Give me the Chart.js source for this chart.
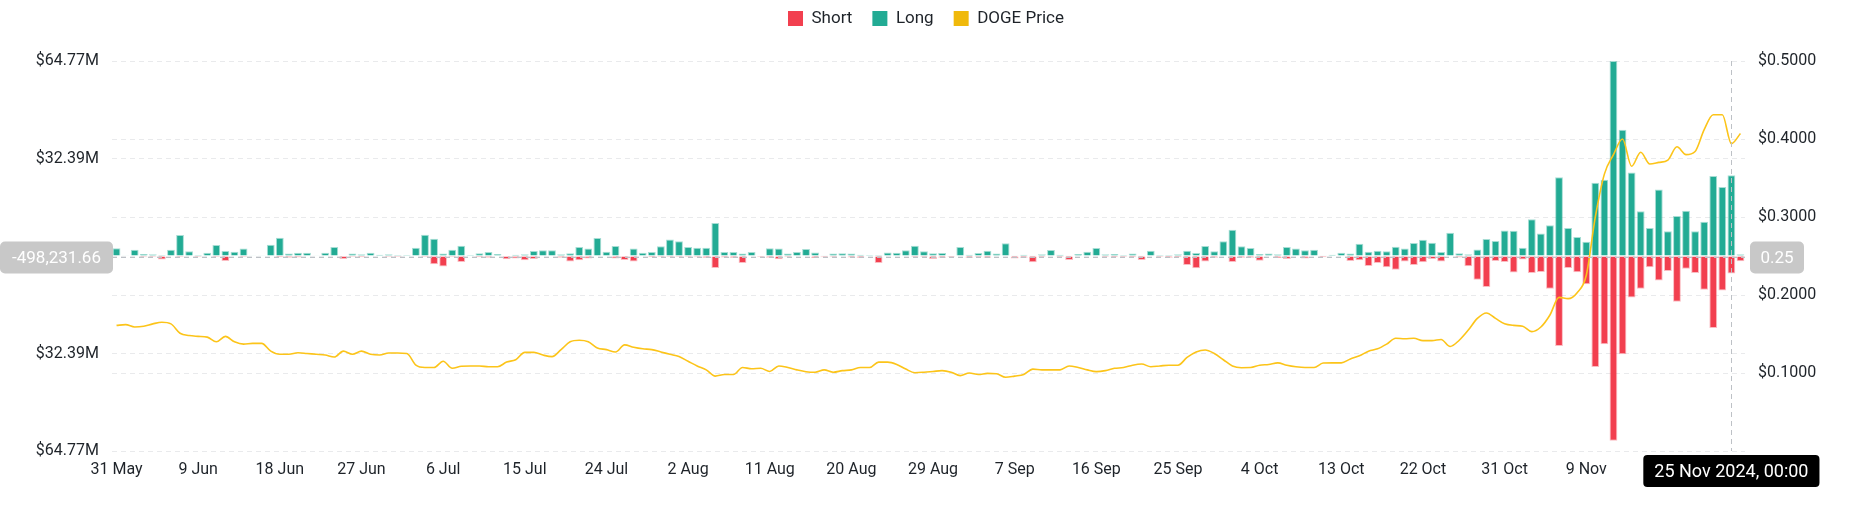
<!DOCTYPE html>
<html>
<head>
<meta charset="utf-8">
<script src="https://cdn.jsdelivr.net/npm/chart.js@4.4.1/dist/chart.umd.min.js"></script>
<style>
  html, body { margin: 0; padding: 0; background: #ffffff; }
  #wrap { width: 1852px; height: 525px; }
</style>
</head>
<body>
<div id="wrap"><canvas id="c" width="1852" height="525"></canvas></div>
<script>
// ---------------- DATA ----------------
const START_DATE = '2024-05-31';
const DAY_COUNT = 180;
const MONTHS = ['Jan','Feb','Mar','Apr','May','Jun','Jul','Aug','Sep','Oct','Nov','Dec'];
const categories = [];
for (let i = 0; i < DAY_COUNT; i++) {
  const d = new Date(START_DATE + 'T00:00:00Z');
  d.setUTCDate(d.getUTCDate() + i);
  categories.push(d.getUTCDate() + ' ' + MONTHS[d.getUTCMonth()]);
}
const xTickLabels = ['31 May','9 Jun','18 Jun','27 Jun','6 Jul','15 Jul','24 Jul','2 Aug','11 Aug','20 Aug',
  '29 Aug','7 Sep','16 Sep','25 Sep','4 Oct','13 Oct','22 Oct','31 Oct','9 Nov','18 Nov'];

// Long liquidations (USD millions)
const longValues = [
  2.55, 0.1, 2.1, 0.65, 0.55, 0.3, 2.1, 7.0, 1.55, 0.3,
  1.1, 3.65, 1.65, 1.45, 2.45, 0.1, 0.1, 3.75, 6.1, 0.8,
  1.1, 1.1, 0.1, 1.1, 3.0, 0.2, 0.8, 0.55, 1.1, 0.45,
  0.55, 0.3, 0.3, 2.75, 7.1, 5.75, 0.8, 2.1, 3.4, 0.3,
  0.9, 1.3, 0.65, 0.2, 0.45, 0.55, 1.65, 1.9, 1.9, 0.55,
  0.9, 3.0, 2.45, 6.0, 1.45, 3.3, 0.2, 2.45, 1.1, 1.3,
  3.2, 5.5, 4.9, 3.0, 2.75, 2.75, 11.0, 1.3, 1.3, 0.8,
  1.3, 0.2, 2.55, 2.45, 0.8, 1.3, 2.3, 1.2, 0.1, 0.8,
  0.9, 0.8, 0.45, 0.35, 0.3, 1.2, 1.1, 1.9, 3.4, 1.55,
  0.95, 1.0, 0.0, 3.0, 0.45, 1.0, 1.75, 0.8, 4.2, 0.1,
  0.45, 0.1, 0.55, 2.0, 0.45, 0.1, 0.65, 1.45, 2.65, 0.55,
  0.65, 0.35, 0.8, 0.1, 1.75, 0.35, 0.35, 0.55, 1.75, 1.0,
  3.3, 1.55, 4.9, 8.75, 3.2, 2.65, 0.65, 0.8, 0.55, 3.0,
  2.45, 1.9, 2.1, 0.1, 0.45, 1.1, 0.8, 4.1, 1.45, 1.75,
  1.55, 3.1, 2.45, 4.3, 5.4, 4.4, 1.3, 7.75, 0.9, 0.55,
  2.2, 5.65, 5.0, 8.5, 8.4, 2.75, 12.2, 7.5, 10.2, 26.2,
  9.3, 6.3, 4.75, 24.35, 25.35, 64.774, 41.95, 27.7, 14.9, 9.3,
  22.1, 8.2, 13.3, 15.05, 8.2, 11.4, 26.6, 22.9, 26.8, 0.55
];

// Short liquidations (USD millions, drawn downward)
const shortValues = [
  -0.2, -0.2, -0.2, -0.4, -0.3, -1.2, -0.2, -0.3, -0.2, -0.3,
  -0.2, -0.3, -1.65, -0.2, -0.3, -0.2, -0.2, -0.2, -0.45, -0.55,
  -0.5, -0.2, -0.2, -0.2, -0.2, -1.0, -0.3, -0.45, -0.2, -0.2,
  -0.3, -0.3, -0.2, -0.2, -0.3, -2.75, -3.5, -0.3, -2.0, -0.2,
  -0.45, -0.55, -0.2, -1.1, -0.8, -1.45, -1.0, -0.2, -0.2, -0.55,
  -1.8, -1.45, -0.8, -0.2, -0.2, -0.8, -1.3, -1.8, -0.2, -0.45,
  -0.3, -0.3, -0.3, -0.3, -0.4, -0.6, -4.0, -0.5, -0.6, -2.3,
  -0.2, -0.35, -0.55, -1.1, -0.35, -0.2, -0.2, -0.65, -0.4, -0.4,
  -0.2, -0.5, -0.6, -0.2, -2.3, -0.2, -0.2, -0.2, -0.3, -0.3,
  -1.0, -0.55, -0.3, -0.2, -0.6, -0.35, -0.55, -0.2, -0.2, -0.8,
  -0.55, -2.1, -0.3, -0.2, -0.35, -1.3, -0.2, -0.2, -0.2, -0.35,
  -0.45, -0.35, -0.45, -1.3, -0.2, -0.35, -0.55, -0.45, -3.0, -4.1,
  -1.8, -0.55, -0.2, -2.0, -0.55, -0.55, -1.55, -0.2, -0.65, -1.0,
  -0.2, -0.8, -0.2, -0.45, -0.2, -0.2, -1.65, -1.45, -3.3, -2.3,
  -3.75, -4.55, -1.8, -3.0, -2.1, -1.0, -1.8, -0.2, -0.5, -3.4,
  -7.9, -10.3, -1.65, -2.0, -5.5, -1.2, -5.65, -5.3, -10.85, -29.9,
  -4.0, -5.4, -9.4, -36.9, -29.3, -61.4, -32.65, -13.8, -10.85, -3.75,
  -8.1, -5.0, -15.2, -4.2, -5.65, -11.2, -23.9, -11.5, -5.85, -1.75
];

// DOGE price (USD)
const priceValues = [
  0.161, 0.162, 0.159, 0.160, 0.163, 0.165, 0.163, 0.151, 0.148, 0.147,
  0.146, 0.140, 0.147, 0.140, 0.137, 0.138, 0.138, 0.128, 0.124, 0.124,
  0.126, 0.125, 0.124, 0.123, 0.1205, 0.128, 0.124, 0.128, 0.124, 0.123,
  0.1256, 0.1256, 0.125, 0.110, 0.107, 0.107, 0.115, 0.106, 0.1086, 0.109,
  0.109, 0.108, 0.108, 0.114, 0.117, 0.1265, 0.1265, 0.123, 0.121, 0.130,
  0.140, 0.142, 0.140, 0.132, 0.130, 0.127, 0.136, 0.133, 0.131, 0.130,
  0.127, 0.124, 0.121, 0.115, 0.109, 0.104, 0.096, 0.098, 0.098, 0.107,
  0.1055, 0.106, 0.102, 0.109, 0.107, 0.104, 0.1017, 0.101, 0.104, 0.101,
  0.103, 0.104, 0.107, 0.107, 0.114, 0.114, 0.111, 0.105, 0.1004, 0.101,
  0.102, 0.103, 0.101, 0.0966, 0.100, 0.098, 0.0995, 0.099, 0.0945, 0.096,
  0.098, 0.105, 0.104, 0.104, 0.104, 0.109, 0.107, 0.104, 0.1017, 0.103,
  0.106, 0.107, 0.110, 0.1115, 0.108, 0.109, 0.110, 0.110, 0.120, 0.127,
  0.1295, 0.125, 0.117, 0.109, 0.1068, 0.107, 0.110, 0.111, 0.113, 0.110,
  0.108, 0.107, 0.107, 0.1128, 0.113, 0.113, 0.118, 0.122, 0.128, 0.131,
  0.137, 0.1445, 0.144, 0.1445, 0.1415, 0.1415, 0.143, 0.134, 0.142, 0.155,
  0.170, 0.177, 0.170, 0.163, 0.161, 0.160, 0.153, 0.159, 0.1744, 0.197,
  0.1953, 0.203, 0.225, 0.300, 0.355, 0.380, 0.400, 0.365, 0.383, 0.368,
  0.370, 0.373, 0.390, 0.380, 0.384, 0.412, 0.431, 0.431, 0.394, 0.407
];

const LEFT_MAX = 64.774;           // $M, symmetric axis
const RIGHT_MAX = 0.5;
const HOVER_CATEGORY = '25 Nov';
const HOVER_LEFT_VALUE = -0.49823166; // $M
const HOVER_LEFT_TEXT = '-498,231.66';
const HOVER_RIGHT_TEXT = '0.25';
const HOVER_TIME_TEXT = '25 Nov 2024, 00:00';

// ---------------- STYLE ----------------
const FONT = 'Roboto, "Noto Sans", "DejaVu Sans", sans-serif';
const TEXT = '#1E2329';
const GRID = '#E9EAEC';
const TEAL = '#22AB94';
const RED = '#F23F4F';
const GOLD = '#F0B90B';
const LINE_GOLD = '#FCC419';
const SPACER_HEIGHT = 24;

// a blank layout box placed between legend and plot area
const topSpacer = {
  id: 'topSpacer',
  beforeInit(chart) {
    const box = {
      position: 'top', weight: 500, fullSize: true, options: {},
      left: 0, top: 0, right: 0, bottom: 0, width: 0, height: 0,
      isHorizontal() { return true; },
      update(maxWidth) { this.width = maxWidth; this.height = SPACER_HEIGHT; },
      getPadding() { return {top: 0, left: 0, right: 0, bottom: 0}; },
      draw() {}
    };
    Chart.layouts.addBox(chart, box);
  }
};

const crosshair = {
  id: 'crosshair',
  afterDatasetsDraw(chart) {
    const {ctx, chartArea: ca, scales} = chart;
    const idx = categories.indexOf(HOVER_CATEGORY);
    const px = Math.round(scales.x.getPixelForValue(idx)) + 0.5;
    const py = Math.round(scales.y.getPixelForValue(HOVER_LEFT_VALUE)) + 0.5;
    ctx.save();
    ctx.strokeStyle = '#BDC1C6';
    ctx.lineWidth = 1;
    ctx.setLineDash([5, 4]);
    ctx.beginPath(); ctx.moveTo(px, ca.top); ctx.lineTo(px, ca.bottom); ctx.stroke();
    ctx.beginPath(); ctx.moveTo(ca.left, py); ctx.lineTo(ca.right, py); ctx.stroke();
    ctx.restore();
  },
  afterDraw(chart) {
    const {ctx, chartArea: ca, scales} = chart;
    const idx = categories.indexOf(HOVER_CATEGORY);
    const px = scales.x.getPixelForValue(idx);
    const py = scales.y.getPixelForValue(HOVER_LEFT_VALUE);
    ctx.save();
    ctx.font = '17px ' + FONT;
    ctx.textAlign = 'center';
    ctx.textBaseline = 'middle';
    // left label
    ctx.fillStyle = '#C8C8C8';
    ctx.beginPath(); ctx.roundRect(0, py - 16, ca.left + 1, 32, 5); ctx.fill();
    ctx.fillStyle = '#FFFFFF';
    ctx.fillText(HOVER_LEFT_TEXT, (ca.left + 1) / 2, py + 1);
    // right label
    ctx.fillStyle = '#C8C8C8';
    ctx.beginPath(); ctx.roundRect(ca.right + 5, py - 16, 54, 32, 5); ctx.fill();
    ctx.fillStyle = '#FFFFFF';
    ctx.fillText(HOVER_RIGHT_TEXT, ca.right + 5 + 27, py + 1);
    // bottom time tooltip
    ctx.font = '18px ' + FONT;
    const tw = ctx.measureText(HOVER_TIME_TEXT).width;
    const bw = tw + 22;
    ctx.fillStyle = '#000000';
    ctx.beginPath(); ctx.roundRect(px - bw / 2, ca.bottom + 4, bw, 32, 4); ctx.fill();
    ctx.fillStyle = '#FFFFFF';
    ctx.fillText(HOVER_TIME_TEXT, px, ca.bottom + 21);
    ctx.restore();
  }
};

new Chart(document.getElementById('c'), {
  type: 'bar',
  data: {
    labels: categories,
    datasets: [
      {
        label: 'Short', data: shortValues, yAxisID: 'y', order: 2,
        backgroundColor: RED, borderColor: 'rgba(242,63,79,0.35)', borderWidth: 1,
        categoryPercentage: 1, barPercentage: 0.86
      },
      {
        label: 'Long', data: longValues, yAxisID: 'y', order: 2,
        backgroundColor: TEAL, borderColor: 'rgba(34,171,148,0.4)', borderWidth: 1,
        categoryPercentage: 1, barPercentage: 0.86
      },
      {
        type: 'line', label: 'DOGE Price', data: priceValues, yAxisID: 'y1', order: 1,
        borderColor: LINE_GOLD, backgroundColor: GOLD, borderWidth: 1.6,
        pointRadius: 0, tension: 0.4, cubicInterpolationMode: 'monotone', fill: false
      }
    ]
  },
  options: {
    responsive: false,
    animation: false,
    devicePixelRatio: 1,
    layout: { padding: { top: -10, left: 0, right: 0, bottom: 0 } },
    plugins: {
      legend: {
        position: 'top',
        align: 'center',
        labels: {
          boxWidth: 15, boxHeight: 15, padding: 20,
          color: TEXT, font: { size: 17, family: FONT },
          sort: (a, b) => a.datasetIndex - b.datasetIndex,
          generateLabels(chart) {
            const items = Chart.defaults.plugins.legend.labels.generateLabels(chart);
            items.forEach(it => { it.lineWidth = 0; it.strokeStyle = 'rgba(0,0,0,0)'; });
            return items;
          }
        }
      },
      tooltip: { enabled: false }
    },
    scales: {
      x: {
        stacked: true,
        offset: true,
        grid: { display: false, drawTicks: false },
        border: { display: false },
        ticks: {
          autoSkip: false, maxRotation: 0, minRotation: 0, padding: 9,
          color: TEXT, font: { size: 16, family: FONT },
          callback(v, i) { const l = categories[i]; return xTickLabels.includes(l) ? l : ''; }
        },
        afterFit(s) { s.height = 74; }
      },
      y: {
        position: 'left',
        stacked: true,
        min: -LEFT_MAX, max: LEFT_MAX,
        grid: { color: GRID, drawTicks: false, lineWidth: 1 },
        border: { display: false, dash: [5, 4] },
        ticks: {
          stepSize: LEFT_MAX / 2, padding: 13, color: TEXT, font: { size: 16, family: FONT },
          callback(v) { return Math.abs(v) < 1e-9 ? '' : '$' + Math.abs(v).toFixed(2) + 'M'; }
        },
        afterFit(s) { s.width = 112; }
      },
      y1: {
        position: 'right',
        min: 0, max: RIGHT_MAX,
        grid: { color: GRID, drawTicks: false, lineWidth: 1 },
        border: { display: false, dash: [5, 4] },
        ticks: {
          stepSize: 0.1, padding: 13, color: TEXT, font: { size: 16, family: FONT },
          callback(v) { return v < 1e-9 ? '' : '$' + v.toFixed(4); }
        },
        afterFit(s) { s.width = 107; }
      }
    }
  },
  plugins: [topSpacer, crosshair]
});
</script>
</body>
</html>
